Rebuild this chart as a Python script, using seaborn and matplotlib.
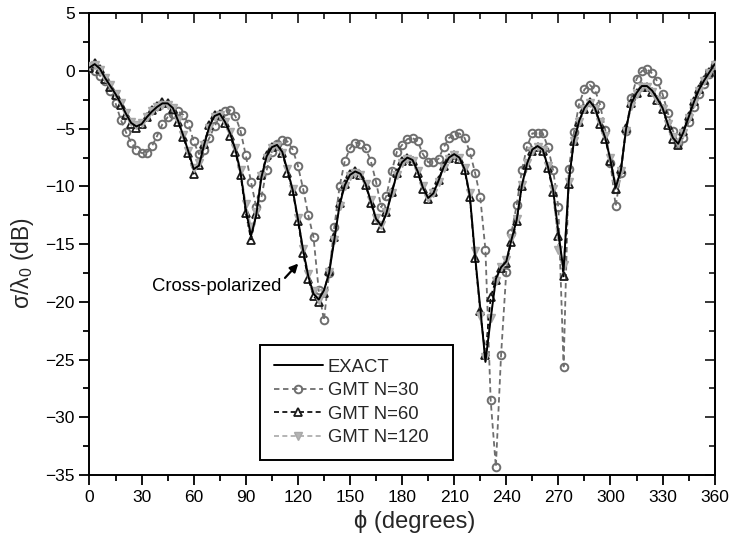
import numpy as np
import pandas as pd
import matplotlib
matplotlib.use("Agg")
import matplotlib.pyplot as plt
import seaborn as sns
from matplotlib.ticker import MultipleLocator

# ---------------- data ----------------
phi = list(range(0, 361, 3))

exact = [0.3, 0.6, 0.2, -0.6, -1.3, -2.0, -2.8, -3.7, -4.5, -4.8, -4.6, -4.0, -3.5, -3.1, -2.8,
         -2.8, -3.2, -4.3, -5.6, -7.0, -8.5, -8.2, -6.4, -4.8, -3.9, -3.7, -4.4, -5.4, -6.8, -8.8,
         -12.0, -14.3, -12.5, -9.2, -7.4, -6.6, -6.4, -7.0, -8.6, -10.3, -12.8, -15.5, -17.8, -19.3, -19.8,
         -19.0, -17.5, -14.6, -11.6, -9.9, -9.0, -8.7, -8.9, -9.8, -11.3, -12.8, -13.4, -12.3, -10.6, -8.9,
         -7.9, -7.5, -7.7, -8.7, -10.1, -11.0, -10.6, -9.5, -8.3, -7.5, -7.2, -7.5, -8.5, -10.8, -16.0,
         -20.5, -25.2, -21.5, -18.0, -17.0, -16.5, -14.6, -12.9, -9.9, -8.0, -6.8, -6.5, -6.8, -8.3, -10.3,
         -14.0, -17.3, -9.5, -6.0, -4.3, -3.2, -2.6, -3.2, -4.5, -5.8, -7.7, -10.1, -8.6, -5.0, -2.8,
         -1.9, -1.3, -1.3, -1.7, -2.4, -3.2, -4.6, -5.8, -6.3, -5.3, -4.0, -2.7, -1.6, -0.8, -0.1, 0.6]

gmt30 = [0.3, 0.0, -0.4, -0.9, -1.7, -2.8, -4.2, -5.3, -6.2, -6.8, -7.1, -7.1, -6.5, -5.6, -4.6,
         -4.0, -3.7, -3.5, -3.8, -4.6, -6.1, -7.2, -6.8, -5.8, -4.8, -3.9, -3.5, -3.4, -3.9, -5.2,
         -7.3, -9.6, -11.8, -10.9, -8.6, -7.0, -6.3, -6.0, -6.1, -6.8, -8.2, -10.2, -12.5, -14.4, -19.0,
         -21.6, -17.5, -13.5, -10.0, -7.8, -6.7, -6.2, -6.3, -6.7, -7.8, -9.6, -11.8, -10.8, -8.7, -7.0,
         -6.4, -5.9, -5.8, -6.1, -7.2, -7.9, -7.9, -7.6, -6.6, -5.8, -5.5, -5.4, -5.8, -7.0, -8.8,
         -10.9, -15.5, -28.5, -34.3, -24.6, -17.4, -14.0, -11.6, -8.6, -6.5, -5.4, -5.4, -5.4, -6.6, -8.6,
         -11.8, -25.6, -8.5, -5.3, -2.8, -1.6, -1.2, -1.6, -2.9, -5.1, -8.0, -11.7, -8.8, -5.2, -2.3,
         -0.7, 0.0, 0.15, -0.2, -0.9, -2.0, -3.6, -5.2, -6.2, -5.8, -4.4, -3.1, -2.0, -1.1, -0.3, 0.5]

gmt60 = [0.3, 0.7, 0.2, -0.7, -1.4, -2.1, -2.9, -3.8, -4.6, -4.9, -4.6, -4.0, -3.4, -3.0, -2.7,
         -2.8, -3.3, -4.4, -5.7, -7.1, -8.9, -8.1, -6.3, -4.7, -3.8, -3.7, -4.5, -5.6, -7.0, -9.0,
         -12.3, -14.6, -12.4, -9.0, -7.3, -6.6, -6.5, -7.1, -8.8, -10.4, -13.0, -15.8, -18.0, -19.5, -20.0,
         -19.2, -17.3, -14.4, -11.4, -9.8, -8.9, -8.7, -9.0, -9.9, -11.4, -12.9, -13.6, -12.2, -10.5, -8.8,
         -7.8, -7.5, -7.8, -8.8, -10.2, -11.1, -10.5, -9.4, -8.2, -7.5, -7.3, -7.6, -8.6, -10.9, -16.2,
         -20.8, -24.6, -19.6, -18.1, -17.1, -16.6, -14.8, -13.0, -10.0, -8.1, -6.9, -6.6, -6.9, -8.4, -10.5,
         -14.3, -17.8, -9.8, -6.1, -4.4, -3.3, -2.7, -3.3, -4.6, -5.9, -7.8, -10.2, -8.5, -4.9, -2.8,
         -1.9, -1.4, -1.4, -1.8, -2.5, -3.3, -4.7, -5.9, -6.4, -5.2, -3.9, -2.6, -1.6, -0.8, -0.1, 0.6]

gmt120 = [0.4, 0.5, 0.1, -0.6, -1.2, -2.0, -2.8, -3.6, -4.4, -4.7, -4.5, -4.0, -3.5, -3.1, -2.9,
          -2.9, -3.2, -4.2, -5.5, -6.9, -8.4, -8.0, -6.4, -4.9, -4.0, -3.8, -4.4, -5.3, -6.7, -8.6,
          -11.5, -13.5, -12.2, -9.1, -7.5, -6.7, -6.5, -7.1, -8.5, -10.2, -12.7, -15.4, -17.6, -19.1, -19.8,
          -19.2, -17.4, -14.6, -11.7, -10.0, -9.1, -8.8, -9.0, -9.8, -11.2, -12.7, -13.3, -12.2, -10.6, -9.0,
          -8.0, -7.6, -7.8, -8.7, -10.0, -11.0, -10.6, -9.6, -8.4, -7.6, -7.3, -7.5, -8.4, -10.6, -15.6,
          -21.2, -24.8, -21.4, -18.2, -17.0, -16.4, -14.5, -12.8, -9.9, -8.0, -6.9, -6.6, -6.8, -8.2, -10.2,
          -15.5, -16.8, -9.6, -6.1, -4.4, -3.3, -2.8, -3.3, -4.4, -5.6, -7.5, -9.8, -8.7, -5.2, -3.0,
          -2.0, -1.4, -1.4, -1.8, -2.5, -3.3, -4.6, -5.7, -6.2, -5.4, -4.1, -2.8, -1.7, -0.9, -0.2, 0.5]

series_labels = ["EXACT", "GMT N=30", "GMT N=60", "GMT N=120"]
x_ticks = list(range(0, 361, 30))
y_ticks = list(range(-35, 6, 5))

# ---------------- plot ----------------
sns.set_theme(style="white")
plt.rcParams['font.family'] = ['Liberation Sans', 'DejaVu Sans']
plt.rcParams['mathtext.default'] = 'regular'

fig = plt.figure(figsize=(7.3, 5.48), dpi=100)
ax = fig.add_axes([0.1226, 0.1332, 0.8564, 0.8425])

sns.lineplot(x=phi, y=exact, ax=ax, color='black', lw=1.4, label=series_labels[0], zorder=5)
sns.lineplot(x=phi, y=gmt30, ax=ax, color='#6e6e6e', lw=1.3, linestyle=(0, (3, 2)),
             marker='o', markersize=5.5, markerfacecolor='none', markeredgecolor='#6e6e6e',
             markeredgewidth=1.4, label=series_labels[1], zorder=3)
sns.lineplot(x=phi, y=gmt60, ax=ax, color='black', lw=1.2, linestyle=(0, (3, 2)),
             marker='^', markersize=5.5, markerfacecolor='none', markeredgecolor='#1a1a1a',
             markeredgewidth=1.3, label=series_labels[2], zorder=4)
sns.lineplot(x=phi, y=gmt120, ax=ax, color='#a8a8a8', lw=1.2, linestyle=(0, (3, 2)),
             marker='v', markersize=6, markerfacecolor='#b4b4b4', markeredgecolor='#a8a8a8',
             markeredgewidth=1.0, label=series_labels[3], zorder=4)

ax.set_xlim(0, 360)
ax.set_ylim(-35, 5)
ax.set_xticks(x_ticks)
ax.set_yticks(y_ticks)
ax.xaxis.set_minor_locator(MultipleLocator(15))
ax.yaxis.set_minor_locator(MultipleLocator(2.5))
ax.tick_params(which='both', direction='out', top=False, right=False,
               bottom=True, left=True, colors='black', labelsize=12.5, width=1.3)
ax.tick_params(which='major', length=7)
ax.tick_params(which='minor', length=4)
for sp in ax.spines.values():
    sp.set_color('black')
    sp.set_linewidth(1.4)

secx = ax.secondary_xaxis('top')
secx.set_xticks(x_ticks)
secx.xaxis.set_minor_locator(MultipleLocator(15))
secx.tick_params(which='both', direction='in', labeltop=False, width=1.3)
secx.tick_params(which='major', length=7)
secx.tick_params(which='minor', length=4)
secx.spines['top'].set_linewidth(1.4)

secy = ax.secondary_yaxis('right')
secy.set_yticks(y_ticks)
secy.yaxis.set_minor_locator(MultipleLocator(2.5))
secy.tick_params(which='both', direction='in', labelright=False, width=1.3)
secy.tick_params(which='major', length=7)
secy.tick_params(which='minor', length=4)
secy.spines['right'].set_linewidth(1.4)

ax.set_xlabel('\u03d5 (degrees)', fontsize=17)
ax.set_ylabel('\u03c3/\u03bb$_0$ (dB)', fontsize=16.5)
ax.xaxis.set_label_coords(0.52, -0.075)
ax.yaxis.set_label_coords(-0.086, 0.46)

ax.text(36, -18.7, 'Cross-polarized', fontsize=13.3, ha='left', va='center', color='black')
ax.annotate('', xy=(121.3, -16.5), xytext=(111.5, -18.1),
            arrowprops=dict(arrowstyle='-|>', color='black', lw=1.6, mutation_scale=12))

leg = ax.legend(loc='lower left', bbox_to_anchor=(0.2726, 0.0325, 0.3084, 0.2469),
                mode='expand', borderaxespad=0, frameon=True, fancybox=False, fontsize=13.3,
                handlelength=2.65, handletextpad=0.27, borderpad=0.75, labelspacing=0.35,
                numpoints=1)
leg.get_frame().set_edgecolor('black')
leg.get_frame().set_linewidth(1.4)
leg.get_frame().set_alpha(1)

fig.savefig('out.png', dpi=100)
